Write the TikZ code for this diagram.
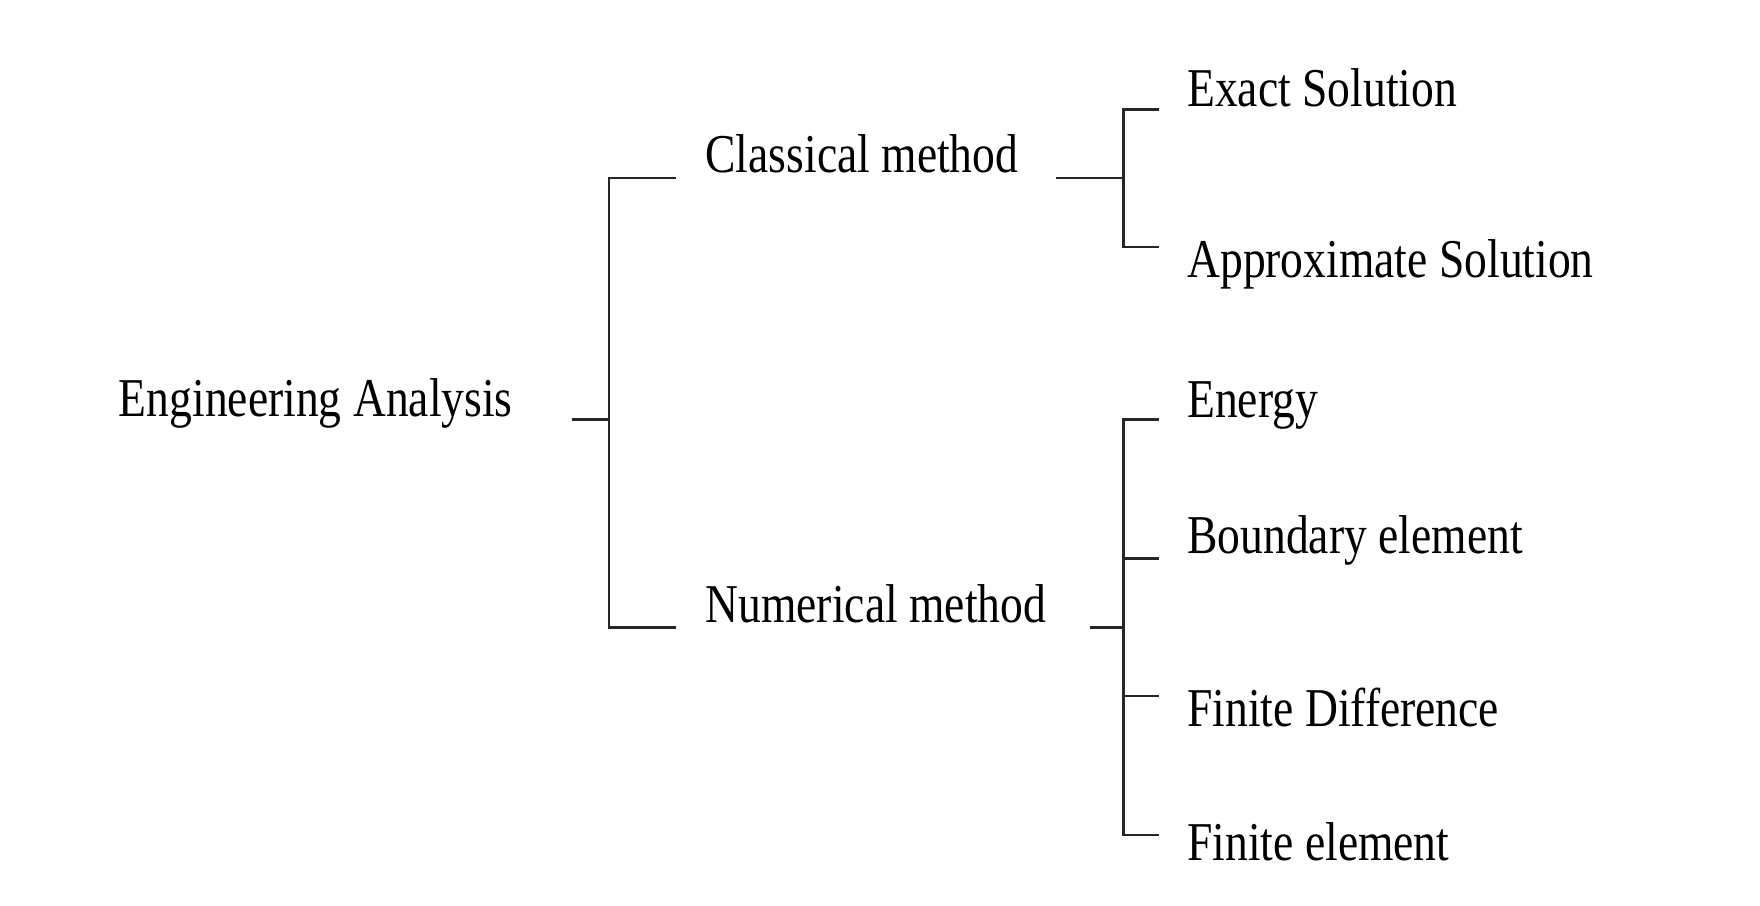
\documentclass[tikz,border=0pt]{standalone}
\usepackage{fontspec}
\setmainfont{Liberation Serif}
\usepackage{graphicx}
\begin{document}
\begin{tikzpicture}[x=0.5pt,y=-0.5pt,
  lbl/.style={anchor=base west, inner sep=0pt, font=\fontsize{20.2}{24}\selectfont},
  tree/.style={line width=1.1pt, draw=black!85, line cap=rect}]
\useasboundingbox[fill=white] (0,0) rectangle (1560,803);
% labels
\node[lbl] (ea) at (105,369) {\scalebox{1}[1.2]{Engineering Analysis}};
\node[lbl] (cm) at (625,153) {\scalebox{1}[1.2]{Classical method}};
\node[lbl] (nm) at (625,552) {\scalebox{1}[1.2]{Numerical method}};
\node[lbl] (es) at (1052,94) {\scalebox{1}[1.2]{Exact Solution}};
\node[lbl] (as) at (1052,246) {\scalebox{1}[1.2]{Approximate Solution}};
\node[lbl] (en) at (1052,370) {\scalebox{1}[1.2]{Energy}};
\node[lbl] (be) at (1052,491) {\scalebox{1}[1.2]{Boundary element}};
\node[lbl] (fd) at (1052,644) {\scalebox{1}[1.2]{Finite Difference}};
\node[lbl] (fe) at (1052,763) {\scalebox{1}[1.2]{Finite element}};
% connector ends
\coordinate (ea-s) at (508,372);
\coordinate (j1) at (540,372);
\coordinate (cm-s) at (598,158);
\coordinate (nm-s) at (598,556);
\coordinate (cm-e) at (937,158);
\coordinate (j2) at (996,158);
\coordinate (es-s) at (1026,97);
\coordinate (as-s) at (1026,219);
\coordinate (nm-e) at (967,556);
\coordinate (j3) at (996,556);
\coordinate (en-s) at (1026,372);
\coordinate (be-s) at (1026,495);
\coordinate (fd-s) at (1026,617);
\coordinate (fe-s) at (1026,740);
% connectors
\draw[tree] (ea-s) -- (j1);
\draw[tree] (cm-s) -| (j1) |- (nm-s);
\draw[tree] (cm-e) -- (j2);
\draw[tree] (es-s) -| (j2) |- (as-s);
\draw[tree] (nm-e) -- (j3);
\draw[tree] (en-s) -| (j3) |- (fe-s);
\draw[tree] (be-s) -- (be-s -| j3);
\draw[tree] (fd-s) -- (fd-s -| j3);
\end{tikzpicture}
\end{document}
